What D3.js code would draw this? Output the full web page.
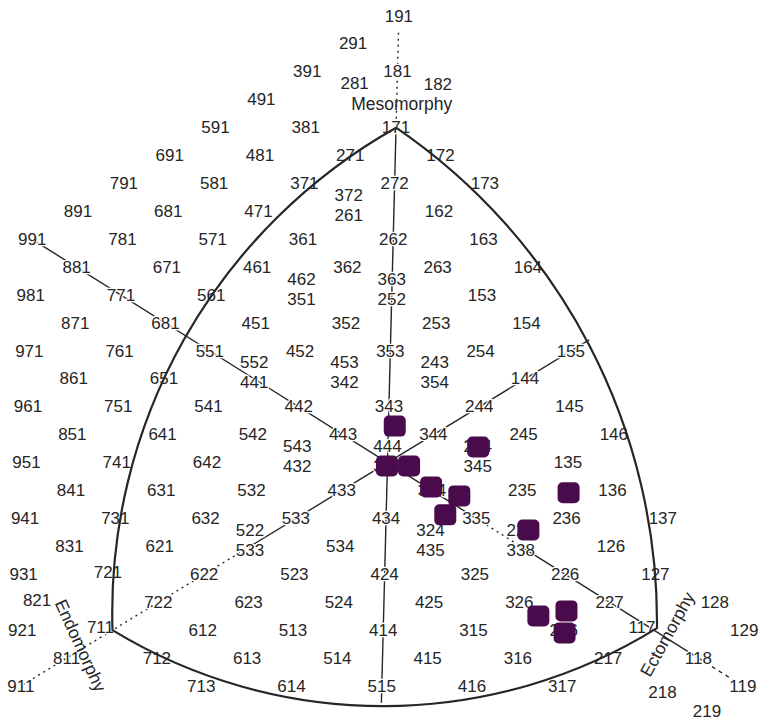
<!DOCTYPE html>
<html><head><meta charset="utf-8">
<script src="https://cdn.jsdelivr.net/npm/d3@7"></script>
<style>body{margin:0;background:#fff}svg{display:block}</style>
</head><body>
<svg id="chart" width="760" height="724"></svg>
<script>
// Somatotype grid labels (endo, meso, ecto digits). Same-position pairs: first listed is drawn on top.
const labelCodes = [
  "191","291","391","181","491","281","182","591","381","171",
  "691","481","271","172","791","581","371","272","173",
  "891","681","471","372","261","162","991","781","571","361","262","163",
  "881","671","461","362","263","164","981","771","561","462","351","363","252","153",
  "871","661","451","352","253","154","971","761","551","452","353","254","155",
  "861","651","552","441","453","342","243","354","144",
  "961","751","541","442","343","244","145",
  "851","641","542","443","344","245","146",
  "951","741","642","543","432","444","333","234","345","135",
  "841","631","532","433","334","235","136",
  "941","731","632","533","434","335","236","137",
  "831","621","522","633","534","324","435","225","336","126",
  "931","721","622","523","424","325","226","127",
  "821","722","623","524","425","326","227","128",
  "921","711","612","513","414","315","216","117","129",
  "811","712","613","514","415","316","217","118",
  "911","713","614","515","416","317","218","119","219"
];
// printed text where the original chart shows something other than the grid code
const printedAs = {"661":"681","633":"533","336":"338"};

// Subject plots (somatochart X = ecto - endo, Y = 2*meso - endo - ecto)
const subjectX = [0.14, -0.01, 0.48, 2.00, 0.98, 1.61, 1.31, 3.16, 4.03, 3.43, 4.05, 4.02];
const subjectY = [1.31, -0.12, -0.12, 0.56, -0.87, -1.19, -1.87, -2.41, -1.08, -5.49, -5.31, -6.10];

// Axis titles
const axisTitles = ["Mesomorphy", "Endomorphy", "Ectomorphy"];

// ---------- layout ----------
const svg = d3.select("#chart");
const xs = d3.scaleLinear().domain([-8, 8]).range([26.5, 748.5]);
const ys = d3.scaleLinear().domain([-8, 16]).range([686, 16]);
const tilt = d3.scaleLinear().domain([-8, 16]).range([-5.7, 11.4]); // slight slant of the scanned chart
const px = (X, Y) => xs(X) + tilt(Y);
const py = Y => ys(Y);

function soma(code) {
  const e = +code[0], m = +code[1], c = +code[2];
  return {X: c - e, Y: 2 * m - e - c};
}

const ink = "#262626";
const font = "Liberation Sans, Arial, sans-serif";
const lineG = svg.append("g");
const line = (a, b, dash, w) => lineG.append("line")
  .attr("x1", px(a[0], a[1])).attr("y1", py(a[1]))
  .attr("x2", px(b[0], b[1])).attr("y2", py(b[1]))
  .attr("stroke", ink).attr("stroke-width", w || 1.4)
  .attr("stroke-dasharray", dash || null);

// Mesomorphy axis
line([0, 15.4], [0, 12], "2,4");
line([0, 12], [0, -8.6]);
// Endomorphy (upper-left) axis
line([-8, 8], [0, 0]);
// Ectomorphy (upper-right) axis
line([0, 0], [4.4, 4.4]);
// lower-left axis
line([0, 0], [-3, -3]);
line([-3, -3], [-8, -8], "2,4");
// lower-right axis
line([0, 0], [2, -2]);
line([2, -2], [3, -3], "2,4");
line([3, -3], [7, -7]);
line([7, -7], [8, -8], "4,4");

// ---------- labels ----------
const nudge = {"281":[3,-16],"182":[-4,-15],"821":[-31,-2],"128":[15,0],"117":[-12,-3],
               "711":[-12,-3],"218":[10,6],"219":[10,-2],"137":[6,0],"721":[-6,-2]};
const groups = d3.group(labelCodes, c => { const s = soma(c); return s.X + "," + s.Y; });
const labels = labelCodes.map(code => {
  const s = soma(code);
  const grp = groups.get(s.X + "," + s.Y);
  let dy = 0;
  if (grp.length > 1) dy = grp.indexOf(code) === 0 ? -16 : 4;
  const n = nudge[code] || [0, 0];
  return {code, text: printedAs[code] || code, x: px(s.X, s.Y) + n[0], y: py(s.Y) + dy + n[1]};
});

svg.append("g").selectAll("text").data(labels).join("text")
  .attr("x", d => d.x).attr("y", d => d.y)
  .attr("text-anchor", "middle").attr("dominant-baseline", "central")
  .attr("font-family", font).attr("font-size", 17)
  .attr("fill", ink)
  .attr("stroke", "#fff").attr("stroke-width", 2.5).attr("paint-order", "stroke")
  .text(d => d.text);

// ---------- outline (curved triangle) ----------
const vTop = soma("171"), vL = soma("711"), vR = soma("117");
const P = v => [px(v.X, v.Y), py(v.Y)];
const a = P(vTop), b = P(vL), c = [P(vR)[0] + 3, P(vR)[1] - 2];
const dist = (p, q) => Math.hypot(p[0] - q[0], p[1] - q[1]);
const r1 = 0.965 * dist(a, b), r2 = 0.955 * dist(b, c), r3 = 1.06 * dist(c, a);
svg.append("path")
  .attr("d", `M${a} A${r1},${r1} 0 0 0 ${b} A${r2},${r2} 0 0 0 ${c} A${r3},${r3} 0 0 0 ${a}`)
  .attr("fill", "none").attr("stroke", ink).attr("stroke-width", 2.2).attr("stroke-linejoin", "round");

// ---------- axis titles ----------
svg.append("text").attr("x", px(0, 13) + 5).attr("y", py(13) + 4)
  .attr("text-anchor", "middle").attr("dominant-baseline", "central")
  .attr("font-family", font).attr("font-size", 17.5).attr("fill", ink)
  .text(axisTitles[0]);
svg.append("text").attr("transform", `translate(${px(-6.7,-6.55)},${py(-6.55)}) rotate(65.4)`)
  .attr("text-anchor", "middle").attr("dominant-baseline", "central")
  .attr("font-family", font).attr("font-size", 17.5).attr("fill", ink)
  .text(axisTitles[1]);
svg.append("text").attr("transform", `translate(${px(6.3,-6.15)},${py(-6.15)}) rotate(-61)`)
  .attr("text-anchor", "middle").attr("dominant-baseline", "central")
  .attr("font-family", font).attr("font-size", 17.5).attr("fill", ink)
  .text(axisTitles[2]);

// ---------- subjects ----------
const subjects = subjectX.map((x, i) => ({X: x, Y: subjectY[i]}));
svg.append("g").selectAll("rect").data(subjects).join("rect")
  .attr("x", d => px(d.X, d.Y) - 11).attr("y", d => py(d.Y) - 10.5)
  .attr("width", 22).attr("height", 21).attr("rx", 5).attr("ry", 5)
  .attr("fill", "#4a0b4c");
</script>
</body></html>
